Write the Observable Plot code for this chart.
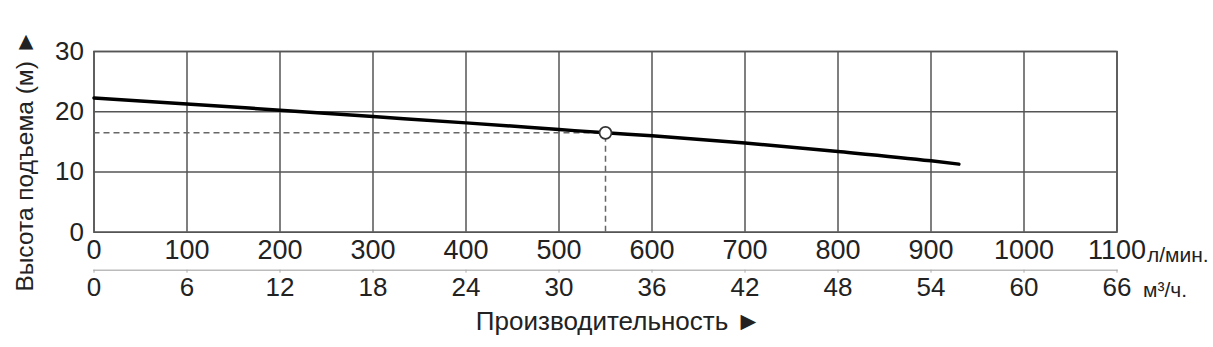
<!DOCTYPE html>
<html><head><meta charset="utf-8">
<script src="https://cdn.jsdelivr.net/npm/d3@7"></script>
<script src="https://cdn.jsdelivr.net/npm/@observablehq/plot@0.6"></script>
<style>body{margin:0;background:#fff;font-family:"Liberation Sans",Arial,sans-serif;}</style>
</head><body><div id="chart"></div>
<script>
// flow (l/min) and head (m)
const flow = [0, 100, 200, 300, 400, 500, 550, 600, 700, 800, 900, 930];
const head = [22.3, 21.3, 20.25, 19.2, 18.15, 17.05, 16.5, 16.0, 14.8, 13.4, 11.85, 11.3];
const xTicks = [0, 100, 200, 300, 400, 500, 600, 700, 800, 900, 1000, 1100];
const yTicks = [0, 10, 20, 30];
const opFlow = [550];
const opHead = [16.5];
const unitTop = "л/мин.";
const unitBottom = "м³/ч.";
const xLabel = "Производительность ►";
const yLabel = "Высота подъема (м) ►";

const curve = flow.map((q, i) => ({q, h: head[i]}));
const op = opFlow.map((q, i) => ({q, h: opHead[i]}));
const grid = "#555";
const font = "Liberation Sans, Arial, sans-serif";

const chart = Plot.plot({
  width: 1213, height: 347,
  marginLeft: 93.5, marginRight: 96.5, marginTop: 51, marginBottom: 115.3,
  style: {fontFamily: font, background: "#fff", color: "#222"},
  x: {domain: [0, 1100], label: null},
  y: {domain: [0, 30], label: null},
  marks: [
    Plot.gridX(xTicks, {stroke: grid, strokeOpacity: 1, strokeWidth: 1.5}),
    Plot.gridY(yTicks, {stroke: grid, strokeOpacity: 1, strokeWidth: 1.5}),
    Plot.frame({stroke: grid, strokeWidth: 1.5}),
    Plot.axisY(yTicks, {tickSize: 0, tickPadding: 10, fontSize: 26, fill: "#222", label: null, tickFormat: d => String(d)}),
    Plot.axisX(xTicks, {tickSize: 0, tickPadding: 8, fontSize: 27, fill: "#222", label: null, tickFormat: d => String(d)}),
    Plot.frame({anchor: "bottom", dy: 38, stroke: "#bbb", strokeWidth: 1.5}),
    Plot.axisX(xTicks, {tickSize: 3, tickPadding: 4, dy: 38, fontSize: 26, fill: "#222", stroke: "#aaa", tickFormat: d => String(d * 60 / 1000), label: null}),
    Plot.text([unitTop], {x: 1100, frameAnchor: "bottom", dx: 30, dy: 30, lineAnchor: "bottom", textAnchor: "start", fontSize: 21, fill: "#222"}),
    Plot.text([unitBottom], {x: 1100, frameAnchor: "bottom", dx: 26, dy: 65, lineAnchor: "bottom", textAnchor: "start", fontSize: 21, fill: "#222"}),
    Plot.text([xLabel], {frameAnchor: "bottom", dx: 13, dy: 98, lineAnchor: "bottom", fontSize: 26, fill: "#222"}),
    Plot.text([yLabel], {frameAnchor: "left", rotate: -90, textAnchor: "middle", dx: -68.5, dy: 19, fontSize: 24.5, fill: "#222"}),
    Plot.ruleY(op, {y: "h", x1: 0, x2: "q", stroke: "#666", strokeWidth: 1.5, strokeDasharray: "6,4"}),
    Plot.ruleX(op, {x: "q", y1: 0, y2: "h", stroke: "#666", strokeWidth: 1.5, strokeDasharray: "6,4"}),
    Plot.line(curve, {x: "q", y: "h", stroke: "#000", strokeWidth: 3.5, curve: "monotone-x"}),
    Plot.dot(op, {x: "q", y: "h", r: 6, fill: "#fff", stroke: "#333", strokeWidth: 1.8})
  ]
});
document.getElementById("chart").append(chart);
</script></body></html>
